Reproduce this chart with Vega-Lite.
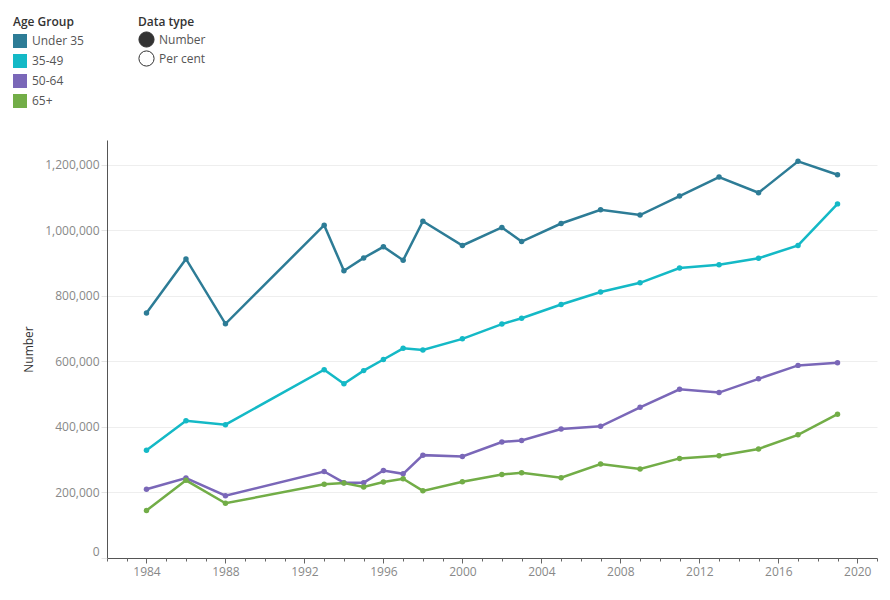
{
  "$schema": "https://vega.github.io/schema/vega-lite/v6.json",
  "width": 770,
  "height": 418,
  "autosize": {"type": "none"},
  "padding": {"left": 107, "top": 140, "right": 13, "bottom": 42},
  "background": "white",
  "config": {"view": {"stroke": null}, "font": "Open Sans", "legend": {"padding": 0, "offset": 0}},
  "datasets": {
    "main": [
      {"group": "Under 35", "year": 1984, "value": 748000},
      {"group": "Under 35", "year": 1986, "value": 913000},
      {"group": "Under 35", "year": 1988, "value": 715000},
      {"group": "Under 35", "year": 1993, "value": 1016000},
      {"group": "Under 35", "year": 1994, "value": 877000},
      {"group": "Under 35", "year": 1995, "value": 916000},
      {"group": "Under 35", "year": 1996, "value": 950000},
      {"group": "Under 35", "year": 1997, "value": 909000},
      {"group": "Under 35", "year": 1998, "value": 1028000},
      {"group": "Under 35", "year": 2000, "value": 954000},
      {"group": "Under 35", "year": 2002, "value": 1009000},
      {"group": "Under 35", "year": 2003, "value": 966000},
      {"group": "Under 35", "year": 2005, "value": 1021000},
      {"group": "Under 35", "year": 2007, "value": 1063000},
      {"group": "Under 35", "year": 2009, "value": 1047000},
      {"group": "Under 35", "year": 2011, "value": 1105000},
      {"group": "Under 35", "year": 2013, "value": 1163000},
      {"group": "Under 35", "year": 2015, "value": 1115000},
      {"group": "Under 35", "year": 2017, "value": 1211000},
      {"group": "Under 35", "year": 2019, "value": 1170000},
      {"group": "35-49", "year": 1984, "value": 329000},
      {"group": "35-49", "year": 1986, "value": 419000},
      {"group": "35-49", "year": 1988, "value": 407000},
      {"group": "35-49", "year": 1993, "value": 575000},
      {"group": "35-49", "year": 1994, "value": 532000},
      {"group": "35-49", "year": 1995, "value": 572000},
      {"group": "35-49", "year": 1996, "value": 606000},
      {"group": "35-49", "year": 1997, "value": 640000},
      {"group": "35-49", "year": 1998, "value": 635000},
      {"group": "35-49", "year": 2000, "value": 669000},
      {"group": "35-49", "year": 2002, "value": 714000},
      {"group": "35-49", "year": 2003, "value": 732000},
      {"group": "35-49", "year": 2005, "value": 774000},
      {"group": "35-49", "year": 2007, "value": 812000},
      {"group": "35-49", "year": 2009, "value": 840000},
      {"group": "35-49", "year": 2011, "value": 885000},
      {"group": "35-49", "year": 2013, "value": 895000},
      {"group": "35-49", "year": 2015, "value": 915000},
      {"group": "35-49", "year": 2017, "value": 954000},
      {"group": "35-49", "year": 2019, "value": 1081000},
      {"group": "50-64", "year": 1984, "value": 210000},
      {"group": "50-64", "year": 1986, "value": 244000},
      {"group": "50-64", "year": 1988, "value": 190000},
      {"group": "50-64", "year": 1993, "value": 264000},
      {"group": "50-64", "year": 1994, "value": 230000},
      {"group": "50-64", "year": 1995, "value": 230000},
      {"group": "50-64", "year": 1996, "value": 267000},
      {"group": "50-64", "year": 1997, "value": 257000},
      {"group": "50-64", "year": 1998, "value": 314000},
      {"group": "50-64", "year": 2000, "value": 310000},
      {"group": "50-64", "year": 2002, "value": 354000},
      {"group": "50-64", "year": 2003, "value": 359000},
      {"group": "50-64", "year": 2005, "value": 394000},
      {"group": "50-64", "year": 2007, "value": 402000},
      {"group": "50-64", "year": 2009, "value": 460000},
      {"group": "50-64", "year": 2011, "value": 515000},
      {"group": "50-64", "year": 2013, "value": 505000},
      {"group": "50-64", "year": 2015, "value": 547000},
      {"group": "50-64", "year": 2017, "value": 588000},
      {"group": "50-64", "year": 2019, "value": 596000},
      {"group": "65+", "year": 1984, "value": 145000},
      {"group": "65+", "year": 1986, "value": 237000},
      {"group": "65+", "year": 1988, "value": 167000},
      {"group": "65+", "year": 1993, "value": 225000},
      {"group": "65+", "year": 1994, "value": 229000},
      {"group": "65+", "year": 1995, "value": 217000},
      {"group": "65+", "year": 1996, "value": 232000},
      {"group": "65+", "year": 1997, "value": 242000},
      {"group": "65+", "year": 1998, "value": 205000},
      {"group": "65+", "year": 2000, "value": 233000},
      {"group": "65+", "year": 2002, "value": 255000},
      {"group": "65+", "year": 2003, "value": 260000},
      {"group": "65+", "year": 2005, "value": 245000},
      {"group": "65+", "year": 2007, "value": 287000},
      {"group": "65+", "year": 2009, "value": 272000},
      {"group": "65+", "year": 2011, "value": 304000},
      {"group": "65+", "year": 2013, "value": 312000},
      {"group": "65+", "year": 2015, "value": 333000},
      {"group": "65+", "year": 2017, "value": 376000},
      {"group": "65+", "year": 2019, "value": 439000}
    ],
    "dtype": [{"dtype": "Number"}, {"dtype": "Per cent"}]
  },
  "layer": [
    {
      "data": {"name": "main"},
      "mark": {"type": "line", "strokeWidth": 2.5},
      "encoding": {
        "x": {
          "field": "year", "type": "quantitative",
          "scale": {"domain": [1982, 2021], "nice": false, "zero": false},
          "axis": {
            "orient": "bottom", "title": null, "grid": false,
            "values": [1984, 1988, 1992, 1996, 2000, 2004, 2008, 2012, 2016, 2020],
            "format": "d", "labelFontSize": 12, "labelColor": "#888888",
            "tickColor": "#666666", "tickSize": 5, "domainColor": "#555555",
            "labelPadding": 3
          }
        },
        "y": {
          "field": "value", "type": "quantitative",
          "scale": {"domain": [0, 1276000], "nice": false},
          "axis": {
            "values": [0, 200000, 400000, 600000, 800000, 1000000, 1200000],
            "format": ",d", "labelFontSize": 12, "labelColor": "#888888",
            "tickColor": "#e4e4e4", "tickSize": 6, "domainColor": "#555555",
            "gridColor": "#eeeeee", "labelPadding": 2, "labelFlush": true, "labelFlushOffset": 0,
            "title": "Number", "titleFontSize": 12, "titleFontWeight": "normal", "titleColor": "#333333",
            "titleX": -79, "titleY": 209, "titleAlign": "center", "titleBaseline": "middle"
          }
        },
        "color": {
          "field": "group", "type": "nominal",
          "scale": {"domain": ["Under 35", "35-49", "50-64", "65+"], "range": ["#2d7c96", "#14b9c6", "#7a67b8", "#72ad47"]},
          "legend": {
            "orient": "none", "legendX": -94, "legendY": -123, "title": "Age Group",
            "titleFontSize": 12, "titleFontWeight": 600, "titleColor": "#333333", "titlePadding": 5,
            "labelFontSize": 12, "labelColor": "#555555", "symbolType": "square", "symbolSize": 196,
            "rowPadding": 6, "labelOffset": 5, "symbolOpacity": 1,
            "encode": {"symbols": {"update": {"fill": {"scale": "color", "field": "value"}, "strokeWidth": {"value": 0}, "opacity": {"value": 1}}}}
          }
        }
      }
    },
    {
      "data": {"name": "main"},
      "mark": {"type": "point", "filled": true, "size": 30, "opacity": 1},
      "encoding": {
        "x": {
          "field": "year", "type": "quantitative",
          "scale": {"domain": [1982, 2021], "nice": false, "zero": false},
          "axis": {
            "orient": "bottom", "title": null, "grid": false, "labels": false, "domain": false,
            "values": [1982, 1983, 1984, 1985, 1986, 1987, 1988, 1989, 1990, 1991, 1992, 1993, 1994, 1995, 1996, 1997, 1998, 1999, 2000, 2001, 2002, 2003, 2004, 2005, 2006, 2007, 2008, 2009, 2010, 2011, 2012, 2013, 2014, 2015, 2016, 2017, 2018, 2019, 2020, 2021],
            "tickColor": "#666666", "tickSize": 3
          }
        },
        "y": {"field": "value", "type": "quantitative", "scale": {"domain": [0, 1276000], "nice": false}},
        "color": {"field": "group", "type": "nominal", "legend": null}
      }
    },
    {
      "data": {"name": "dtype"},
      "mark": {"type": "point", "filled": true, "opacity": 1},
      "encoding": {
        "x": {"field": "year", "type": "quantitative", "scale": {"domain": [1982, 2021], "nice": false, "zero": false}, "axis": null},
        "y": {"field": "value", "type": "quantitative", "scale": {"domain": [0, 1276000], "nice": false}},
        "fill": {
          "field": "dtype", "type": "nominal",
          "scale": {"domain": ["Number", "Per cent"], "range": ["#333333", "#ffffff"]},
          "legend": {
            "orient": "none", "legendX": 31, "legendY": -123, "title": "Data type",
            "titleFontSize": 12, "titleFontWeight": 600, "titleColor": "#333333", "titlePadding": 2,
            "labelFontSize": 12, "labelColor": "#555555", "symbolType": "circle", "symbolSize": 230,
            "symbolStrokeColor": "#333333", "symbolStrokeWidth": 1, "rowPadding": -5, "labelOffset": 4,
            "symbolOpacity": 1,
            "encode": {"symbols": {"update": {"opacity": {"value": 1}}}}
          }
        }
      }
    }
  ],
  "resolve": {"axis": {"x": "independent"}}
}
